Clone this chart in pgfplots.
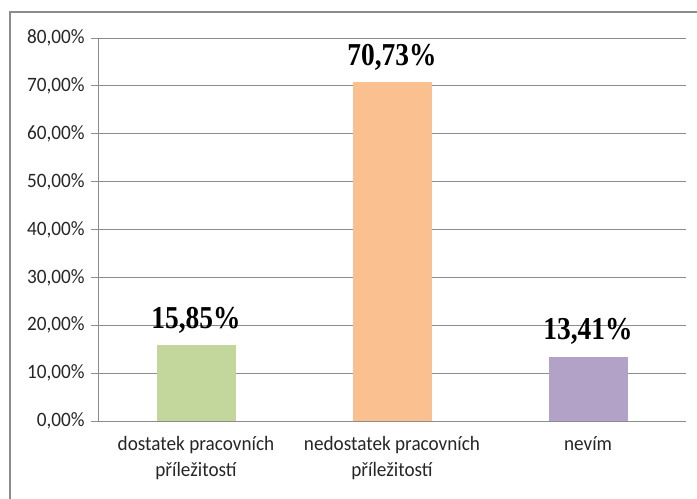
\documentclass[border=0pt]{standalone}
\usepackage{pgfplots}
\pgfplotsset{compat=1.18}
\usepackage{fontspec}
\setmainfont{Carlito}[FakeStretch=0.94]
\newfontfamily\lserif{Liberation Serif}[FakeStretch=0.86]
\definecolor{bgreen}{HTML}{C3D69B}
\definecolor{borange}{HTML}{FAC090}
\definecolor{bpurple}{HTML}{B3A2C7}
\definecolor{gridc}{HTML}{8C8C8C}
\begin{document}
\begin{tikzpicture}[x=1bp,y=1bp]
\useasboundingbox (0,0) rectangle (697,499);
\draw[color=gridc, line width=1.6bp] (10,-20) rectangle (720,487);
\begin{axis}[
  at={(98bp,78bp)}, anchor=south west,
  width=588bp, height=383bp, scale only axis,
  xmin=-0.5, xmax=2.5, ymin=0, ymax=80,
  axis x line*=bottom, axis y line*=left,
  axis line style={color=gridc, line width=0.9bp, -},
  ytick={0,10,...,80},
  yticklabels={{0,00\%},{10,00\%},{20,00\%},{30,00\%},{40,00\%},{50,00\%},{60,00\%},{70,00\%},{80,00\%}},
  ymajorgrids, grid style={color=gridc, line width=0.9bp},
  major tick style={color=gridc, line width=0.9bp},
  minor tick style={color=gridc, line width=0.9bp},
  tick align=outside,
  major tick length=7bp, minor tick length=7bp,
  xtick={0,1,2},
  extra x ticks={-0.5,0.5,1.5,2.5}, extra x tick labels={},
  extra x tick style={major tick length=7bp, grid=none},
  xticklabels={{dostatek pracovních\\příležitostí},{nedostatek pracovních\\příležitostí},{nevím}},
  x tick style={draw=none},
  extra x tick style={tick style={draw=gridc}},
  xticklabel style={align=center, font=\fontsize{20.5}{26}\selectfont, text=black!85, yshift=-5bp},
  yticklabel style={font=\fontsize{20.5}{20.5}\selectfont, text=black!85, xshift=-3bp},
  /pgf/number format/assume math mode=true,
  clip=false,
  nodes near coords={\pgfmathprintnumber[fixed, fixed zerofill, precision=2, use comma]{\pgfplotspointmeta}\%},
  nodes near coords style={font=\lserif\bfseries\fontsize{32}{32}\selectfont, text=black, anchor=base, inner sep=0pt, yshift=17bp},
]
\addplot[ybar, bar width=79bp, fill=bgreen, draw=none] coordinates {(0,15.85)};
\addplot[ybar, bar width=79bp, fill=borange, draw=none] coordinates {(1,70.73)};
\addplot[ybar, bar width=79bp, fill=bpurple, draw=none] coordinates {(2,13.41)};
\end{axis}
\end{tikzpicture}
\end{document}
